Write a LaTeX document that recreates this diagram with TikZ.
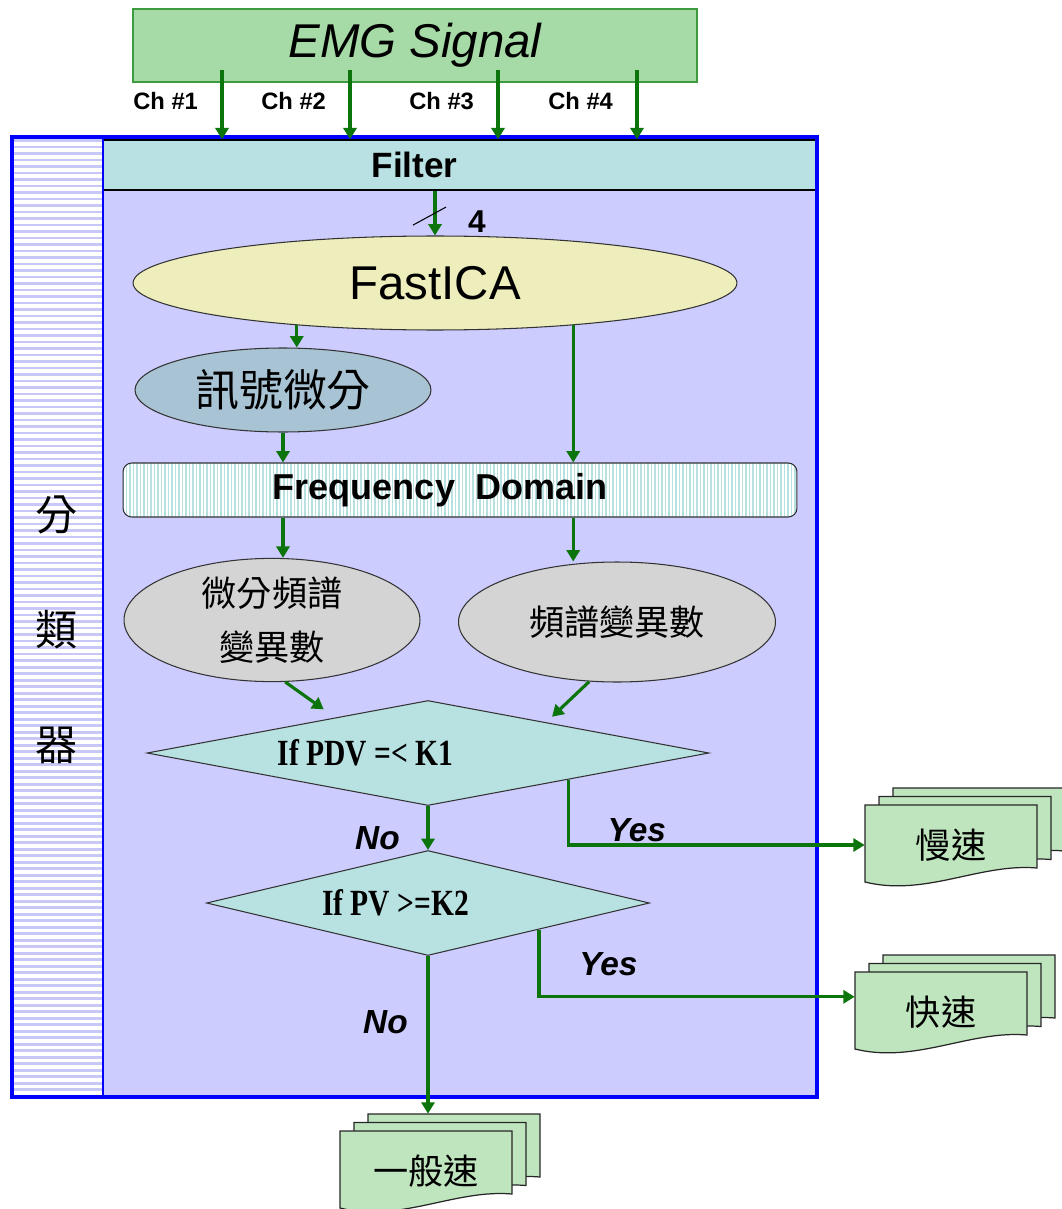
\documentclass[tikz,border=0pt]{standalone}
\usepackage{fontspec}
\setmainfont{Liberation Sans}
\newfontfamily\cjk{Noto Sans CJK TC}
\newfontfamily\condserif[FakeStretch=0.8]{Liberation Serif}
\usetikzlibrary{shapes.geometric, arrows.meta, positioning, calc}
\definecolor{sigfill}{HTML}{A6DAA6}
\definecolor{sigline}{HTML}{3E9A3E}
\definecolor{flowgreen}{HTML}{0B740B}
\definecolor{framelilac}{HTML}{CCCCFF}
\definecolor{frameblue}{HTML}{0000FF}
\definecolor{filterteal}{HTML}{B9E0E2}
\definecolor{icayellow}{HTML}{EEEEBC}
\definecolor{diffblue}{HTML}{A8C3D3}
\definecolor{vargray}{HTML}{D4D4D4}
\definecolor{testteal}{HTML}{B8E1E1}
\definecolor{docgreen}{HTML}{BFE5BF}
\definecolor{stripeteal}{HTML}{B8E0E0}
\definecolor{stripelilac}{HTML}{C8C8F8}

% stacked output sheets: name, top-left x, top-left y, text
\newcommand{\docstack}[4]{%
  \foreach \k in {2,1,0}
    \filldraw[docsheet, shift={(#2+14*\k,#3-8.5*\k)}] (0,0) -- (172,0) -- (172,63)
      .. controls (115,58) and (60,92) .. (0,77) -- cycle;
  \node[docnode] (#1) at (#2+86,#3+40) {#4};
}

\begin{document}
\begin{tikzpicture}[x=0.02cm, y=-0.02cm,
  flow/.style={draw=flowgreen, line width=1.8pt, -{Triangle[length=6.5pt, width=7.5pt]}},
  sigbox/.style={draw=sigline, line width=0.8pt, fill=sigfill, minimum width=11.28cm, minimum height=1.46cm, font=\fontsize{27}{30}\selectfont\itshape},
  chlabel/.style={inner sep=0pt, font=\fontsize{13.5}{15}\selectfont\bfseries},
  band/.style={draw=black, line width=0.8pt, fill=filterteal, minimum width=16.1cm, minimum height=1cm, font=\fontsize{20}{22}\selectfont\bfseries},
  oval/.style={ellipse, draw=black!80, line width=0.6pt, inner sep=0pt},
  test/.style={diamond, draw=black!80, line width=0.6pt, fill=testteal, inner sep=0pt, shape aspect=5, minimum height=2.1cm, font=\condserif\bfseries\fontsize{21}{24}\selectfont},
  branch/.style={inner sep=1pt, font=\fontsize{19}{21}\selectfont\bfseries\itshape},
  coltext/.style={font=\cjk\fontsize{24}{26}\selectfont},
  docsheet/.style={draw=black!85, line width=0.7pt, fill=docgreen},
  docnode/.style={minimum width=3.44cm, minimum height=1.6cm, inner sep=0pt, font=\cjk\fontsize{20}{22}\selectfont},
]
  \useasboundingbox (0,0) rectangle (1061,1209);

  % classifier frame
  \fill[framelilac] (12,137) rectangle (817,1097);
  \node[band] (filter) at (414.5,165) {Filter};
  \fill[white] (12,137) rectangle (103,1097);
  \foreach \y in {140.5,147,...,1094}
    \draw[stripelilac, line width=1.7pt] (12,\y) -- (103,\y);
  \draw[frameblue, line width=1.6pt] (103,137) -- (103,1097);
  \draw[frameblue, line width=2.2pt] (12,137) rectangle (817,1097);
  \node[coltext] (cls1) at (57,515) {分};
  \node[coltext] (cls2) at (57,630) {類};
  \node[coltext] (cls3) at (57,745) {器};

  \node[sigbox] (emg) at (415,45.5) {EMG Signal};

  \node[oval, fill=icayellow, minimum width=12.08cm, minimum height=1.88cm, font=\fontsize{27}{30}\selectfont] (fastica) at (435,283) {FastICA};
  \node[oval, fill=diffblue, minimum width=5.92cm, minimum height=1.68cm, font=\cjk\fontsize{25}{28}\selectfont] (diffsig) at (283,390) {訊號微分};
  \node[draw=black!80, line width=0.6pt, rounded corners=5pt, fill=white, minimum width=13.48cm, minimum height=1.08cm,
    font=\fontsize{20.5}{22}\selectfont\bfseries,
    path picture={\foreach \x in {0,3.5,...,680}
      \draw[stripeteal, line width=0.7pt] ([xshift={\x*0.02cm}]path picture bounding box.south west) -- ([xshift={\x*0.02cm}]path picture bounding box.north west);}]
    (freq) at (460,490) {Frequency~~Domain\hspace*{0.8cm}};
  \node[oval, fill=vargray, minimum width=5.92cm, minimum height=2.32cm, align=center, font=\cjk\fontsize{20}{31}\selectfont] (diffvar) at (272,620) {微分頻譜\\變異數};
  \node[oval, fill=vargray, minimum width=6.34cm, minimum height=2.4cm, font=\cjk\fontsize{20}{22}\selectfont] (varspec) at (617,622) {頻譜變異數};
  \node[test, minimum width=11.24cm] (dec1) at (428,753) {If PDV =< K1\hspace*{2.5cm}};
  \node[test, minimum width=8.86cm] (dec2) at (428,903) {If PV >=K2\hspace*{1.3cm}};

  \docstack{slow}{865}{805}{慢速}
  \docstack{fast}{855}{972}{快速}
  \docstack{normal}{340}{1131}{一般速}

  % four input channels
  \foreach \x [count=\i] in {222,350,498,637} {
    \coordinate (tap\i) at (\x,70);
    \draw[flow] (tap\i) -- node[chlabel, left=0.45cm, pos=0.45] {Ch \#\i} (tap\i |- filter.north);
  }

  \draw[flow] (filter.south -| fastica.north) -- coordinate[midway] (bus) (fastica.north);
  \draw[line width=0.6pt] ($(bus)+(-22,12)$) -- ($(bus)+(11,-6)$);
  \node[font=\fontsize{18}{20}\selectfont\bfseries] (buswidth) at ($(bus)+(42,9)$) {4};

  \draw[flow] (fastica.-163) -- (fastica.-163 |- diffsig.north);
  \draw[flow] (fastica.-17.5) -- (fastica.-17.5 |- freq.north);
  \draw[flow] (diffsig.south) -- (diffsig.south |- freq.north);
  \draw[flow] (freq.south -| diffsig.south) -- (diffsig.south |- diffvar.north);
  \draw[flow] (fastica.-17.5 |- freq.south) -- (fastica.-17.5 |- varspec.north);
  \draw[flow, shorten >=0.28cm] (diffvar.-78) -- ($(dec1.north)!0.33!(dec1.west)$);
  \draw[flow, shorten >=0.16cm] (varspec.-115) -- ($(dec1.north)!0.42!(dec1.east)$);

  \draw[flow] (dec1.south) -- node[branch, left=0.5cm, pos=0.73] {No} (dec2.north);
  \draw[flow] (dec1.south east) |- node[branch, above, pos=0.615] {Yes} (slow.west);
  \draw[flow] (dec2.south east) |- node[branch, above=0.35cm, pos=0.61] {Yes} (fast.170);
  \draw[flow, shorten >=0.34cm] (dec2.south) -- node[branch, left=0.34cm, pos=0.38] {No} (dec2.south |- normal.north);
\end{tikzpicture}
\end{document}
